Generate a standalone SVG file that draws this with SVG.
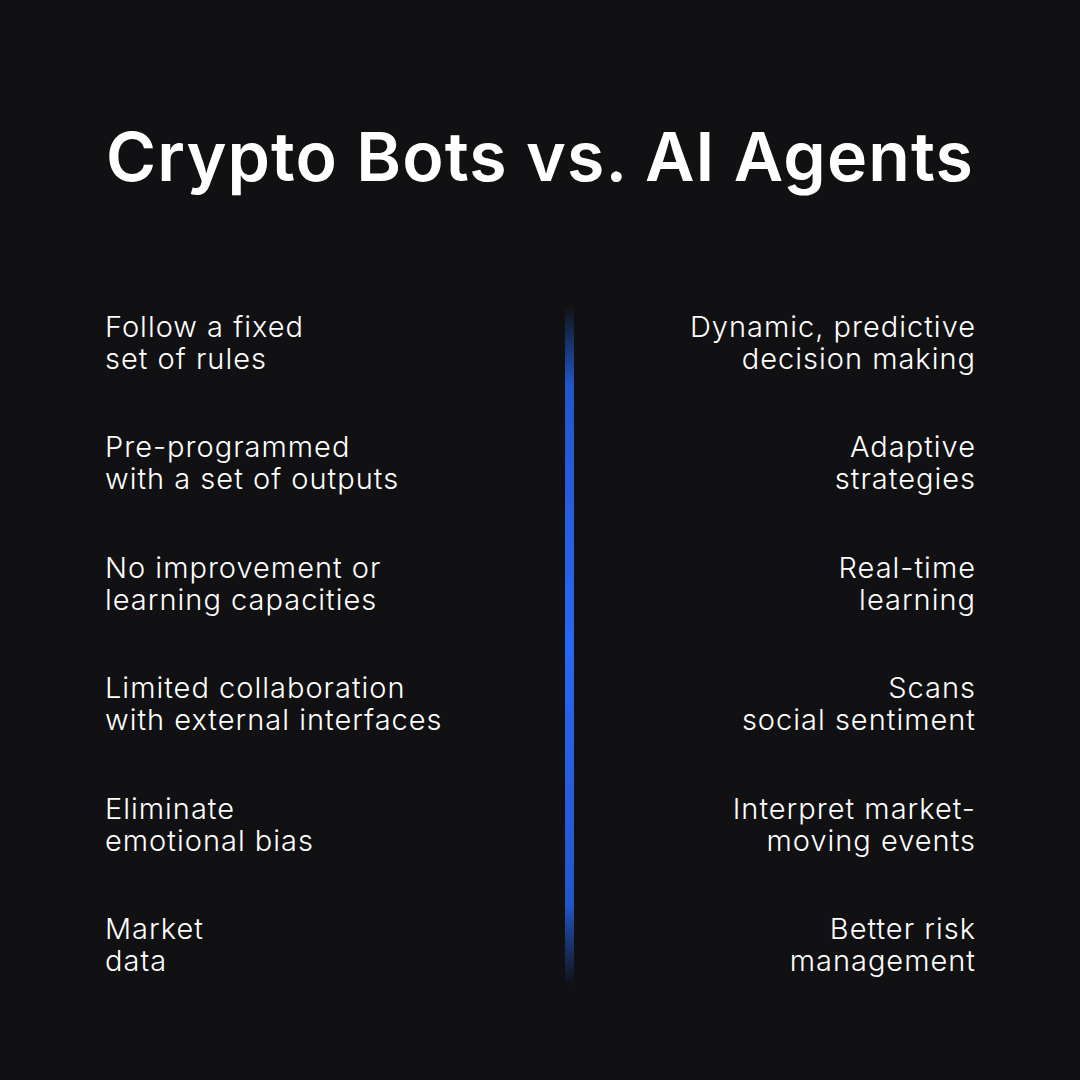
<svg xmlns="http://www.w3.org/2000/svg" width="1080" height="1080" viewBox="0 0 1080 1080">
<defs>
<linearGradient id="g" x1="0" y1="0" x2="0" y2="1">
<stop offset="0" stop-color="#2563eb" stop-opacity="0"/>
<stop offset="0.12" stop-color="#2563eb" stop-opacity="0.85"/>
<stop offset="0.5" stop-color="#2a66f5"/>
<stop offset="0.88" stop-color="#2563eb" stop-opacity="0.85"/>
<stop offset="1" stop-color="#2563eb" stop-opacity="0"/>
</linearGradient>
<style>
.t{font-family:Inter,"Noto Sans",sans-serif;font-size:29px;fill:#ffffff;font-weight:300;letter-spacing:1px}
.r{text-anchor:end}
</style>
</defs>
<rect width="1080" height="1080" fill="#111113"/>
<text x="540" y="181" text-anchor="middle" font-family="Inter,'Noto Sans',sans-serif" font-size="68" font-weight="600" letter-spacing="1.1" fill="#ffffff">Crypto Bots vs. AI Agents</text>
<rect x="565" y="305" width="9" height="680" fill="url(#g)"/>
<g id="left">
<text class="t" x="105" y="337">Follow a fixed</text><text class="t" x="105" y="369">set of rules</text>
<text class="t" x="105" y="457">Pre-programmed</text><text class="t" x="105" y="489">with a set of outputs</text>
<text class="t" x="105" y="578">No improvement or</text><text class="t" x="105" y="610">learning capacities</text>
<text class="t" x="105" y="698">Limited collaboration</text><text class="t" x="105" y="730">with external interfaces</text>
<text class="t" x="105" y="819">Eliminate</text><text class="t" x="105" y="851">emotional bias</text>
<text class="t" x="105" y="939">Market</text><text class="t" x="105" y="971">data</text>
</g>
<g id="right">
<text class="t r" x="976" y="337">Dynamic, predictive</text><text class="t r" x="976" y="369">decision making</text>
<text class="t r" x="976" y="457">Adaptive</text><text class="t r" x="976" y="489">strategies</text>
<text class="t r" x="976" y="578">Real-time</text><text class="t r" x="976" y="610">learning</text>
<text class="t r" x="976" y="698">Scans</text><text class="t r" x="976" y="730">social sentiment</text>
<text class="t r" x="976" y="819">Interpret market-</text><text class="t r" x="976" y="851">moving events</text>
<text class="t r" x="976" y="939">Better risk</text><text class="t r" x="976" y="971">management</text>
</g>
</svg>
